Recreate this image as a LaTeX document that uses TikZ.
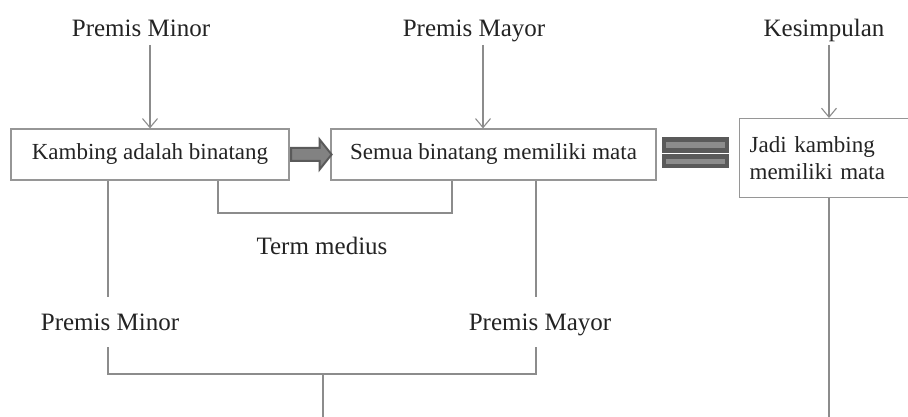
\documentclass[tikz,border=0pt]{standalone}
\usepackage{fontspec}
\setmainfont{Liberation Serif}
\usetikzlibrary{arrows.meta,calc}

\definecolor{linegray}{RGB}{140,140,140}
\definecolor{boxgray}{RGB}{150,150,150}
\definecolor{bardark}{RGB}{90,90,90}
\definecolor{barlight}{RGB}{140,140,140}
\definecolor{inktext}{RGB}{35,35,35}

\tikzset{
  label/.style={font=\fontsize{25}{28}\selectfont, text=inktext, anchor=base, inner sep=0pt},
  stmt/.style={draw=boxgray, line width=1.2pt, rectangle, inner sep=0pt,
               font=\fontsize{23}{27}\selectfont, text=inktext},
  conn/.style={draw=linegray, line width=1.1pt},
  arr/.style={conn, -{Straight Barb[length=9pt,width=15pt,line width=1.1pt]}},
  blockarrow/.style={fill=barlight!80!bardark, draw=bardark, line width=2pt, line join=miter},
}

\begin{document}
\begin{tikzpicture}[x=1pt,y=-1pt]
\useasboundingbox (0,0) rectangle (908,417);
\clip (0,0) rectangle (908,417);

% headings above the statements
\node[label] (minorTop) at (141,37) {Premis Minor};
\node[label] (mayorTop) at (474,37) {Premis Mayor};
\node[label] (kesTop)   at (824,37) {Kesimpulan};

% the three statements
\node[stmt, minimum width=278pt, minimum height=51pt] (minor) at (150,154.5)
  {Kambing adalah binatang};
\node[stmt, minimum width=325pt, minimum height=51pt] (mayor) at (493.5,154.5)
  {Semua binatang memiliki mata};
\node[stmt, minimum width=230pt, minimum height=79pt, anchor=north west,
      align=left, text width=210pt] (concl) at (739,118)
  {Jadi kambing\\memiliki mata};

% arrows from the headings
\coordinate (a1) at (150,45);
\coordinate (a2) at (483,45);
\coordinate (a3) at (829,45);
\draw[arr] (a1) -- (a1 |- minor.north);
\draw[arr] (a2) -- (a2 |- mayor.north);
\draw[arr] (a3) -- (a3 |- concl.north);

% block arrow between the premises
\coordinate (ba) at (minor.east);
\path[blockarrow]
  ($(ba)+(1.5,-6.5)$) -- ($(ba)+(30,-6.5)$) -- ($(ba)+(30,-15)$) --
  ($(ba)+(42,0)$) -- ($(ba)+(30,15)$) -- ($(ba)+(30,6.5)$) --
  ($(ba)+(1.5,6.5)$) -- cycle;

% equals sign before the conclusion
\fill[bardark] (662,137) rectangle (729,153);
\fill[barlight] (666,142) rectangle (725,148);
\fill[bardark] (662,154.5) rectangle (729,168);
\fill[barlight] (666,159) rectangle (725,164);

% term medius bracket
\coordinate (t1) at (218,213);
\coordinate (t2) at (452,213);
\draw[conn] (t1 |- minor.south) -- (t1) -- (t2) -- (t2 |- mayor.south);
\node[label] (term) at (322,254) {Term medius};

% premises carried down
\node[label] (minorLow) at (110,330) {Premis Minor};
\node[label] (mayorLow) at (540,330) {Premis Mayor};
\coordinate (m1) at (108,297);
\coordinate (m2) at (536,297);
\draw[conn] (m1 |- minor.south) -- (m1);
\draw[conn] (m2 |- mayor.south) -- (m2);

% premises joined below
\coordinate (j1) at (108,347);
\coordinate (j2) at (536,347);
\coordinate (jm) at (323,374);
\coordinate (jend) at (323,417);
\draw[conn] (j1) -- (j1 |- jm) -- (j2 |- jm) -- (j2);
\draw[conn] (jm) -- (jend);

% conclusion line down
\coordinate (cend) at (829,417);
\draw[conn] (cend |- concl.south) -- (cend);
\end{tikzpicture}
\end{document}
